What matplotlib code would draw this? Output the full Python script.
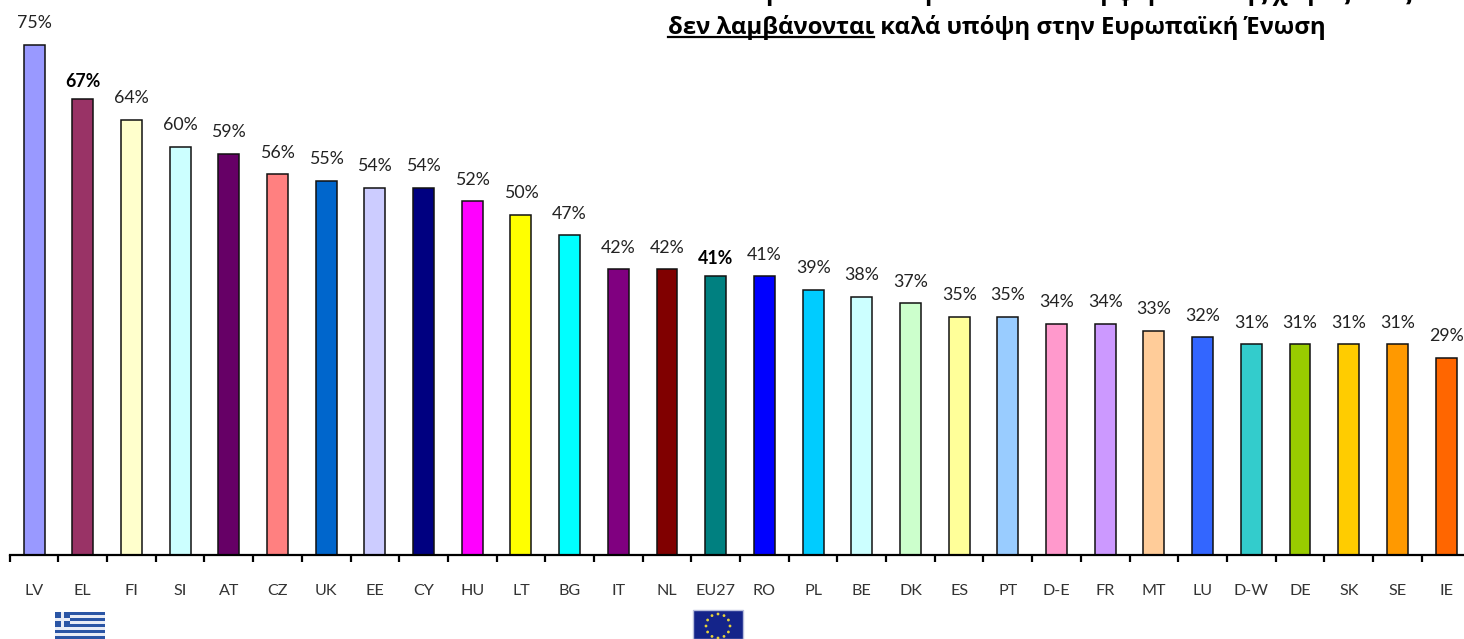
import matplotlib
matplotlib.use("Agg")
import matplotlib.pyplot as plt
import numpy as np
from matplotlib.patches import Rectangle, Circle

W, H = 1464, 639
countries = ["LV","EL","FI","SI","AT","CZ","UK","EE","CY","HU","LT","BG","IT","NL","EU27",
             "RO","PL","BE","DK","ES","PT","D-E","FR","MT","LU","D-W","DE","SK","SE","IE"]
values = [75,67,64,60,59,56,55,54,54,52,50,47,42,42,41,41,39,38,37,35,35,34,34,33,32,31,31,31,31,29]
colors = ["#9999FF","#993366","#FFFFCC","#CCFFFF","#660066","#FF8080","#0066CC","#CCCCFF","#000080",
          "#FF00FF","#FFFF00","#00FFFF","#800080","#800000","#008080","#0000FF","#00CCFF","#CCFFFF",
          "#CCFFCC","#FFFF99","#99CCFF","#FF99CC","#CC99FF","#FFCC99","#3366FF","#33CCCC","#99CC00",
          "#FFCC00","#FF9900","#FF6600"]
bold_labels = {"EL", "EU27"}
title_line1 = "Ποσοστό ατόμων που θεωρούν ότι τα συμφέροντα της χώρας τους"
title_under = "δεν λαμβάνονται"
title_rest = " καλά υπόψη στην Ευρωπαϊκή Ένωση"

plt.rcParams["font.family"] = ["Lato", "Open Sans", "DejaVu Sans"]
TITLE_FONT = ["Open Sans", "DejaVu Sans"]

fig = plt.figure(figsize=(W/100, H/100), dpi=100)
px_left, px_right, px_base = 9.7, 1464, 555
ax = fig.add_axes([px_left/W, (H-px_base)/H, (px_right-px_left)/W, px_base/H])
step = 48.69
x = np.arange(len(countries))
ax.bar(x, values, width=0.43, color=colors, edgecolor="#111111", linewidth=1.1)
for s in ["top", "left", "right"]:
    ax.spines[s].set_visible(False)
ax.spines["bottom"].set_linewidth(1.6)
ax.set_yticks([])
ax.set_xticks(np.arange(-0.5, 29.6, 1))
ax.tick_params(axis="x", length=5, width=1.6, labelbottom=False)
ax.set_xlim(-0.5, -0.5 + (px_right-px_left)/step)
ax.set_ylim(0, px_base/6.8)
for i, (c, v) in enumerate(zip(countries, values)):
    b = c in bold_labels
    ax.annotate(f"{v}%", (i, v), xytext=(0, 18 if b else 21.5), textcoords="offset pixels",
                ha="center", va="center", fontsize=12.8,
                fontweight="bold" if b else "normal", color="#000000" if b else "#222222")
    ax.annotate(c, (i, 0), xytext=(0, -36), textcoords="offset pixels", ha="center",
                va="center", fontsize=11.6, color="#333333", annotation_clip=False)

# Title (first line is clipped by the top edge in the reference)
r = fig.canvas.get_renderer()
fs = 14.0
line_left, line_right = 668, 1328
probe = fig.text(0, 0, title_under + title_rest, fontsize=fs, fontweight="bold", family=TITLE_FONT)
fs = fs * (line_right - line_left) / probe.get_window_extent(r).width
probe.remove()
fig.text(610/W, 1-(-6)/H, title_line1, ha="left", va="center", fontsize=fs, fontweight="bold",
         family=TITLE_FONT, clip_on=False)
t1 = fig.text(line_left/W, 1-27/H, title_under, ha="left", va="center", fontsize=fs,
              fontweight="bold", family=TITLE_FONT)
bb = t1.get_window_extent(r)
fig.text(bb.x1/W, 1-27/H, title_rest, ha="left", va="center", fontsize=fs, fontweight="bold",
         family=TITLE_FONT)
fig.add_artist(plt.Line2D([line_left/W, bb.x1/W], [1-37/H]*2, color="black", lw=1.6))

# Flags
fl = fig.add_axes([0, 0, 1, 1], facecolor="none")
fl.set_xlim(0, W); fl.set_ylim(H, 0); fl.axis("off")
gb, gw = "#2A55A5", "#E8ECF6"
gx, gy, gw_, gh = 55, 612, 50, 27
fl.add_patch(Rectangle((gx, gy), gw_, gh, color=gw, lw=0))
for k in range(0, 9, 2):
    fl.add_patch(Rectangle((gx, gy+k*gh/9), gw_, gh/9, color=gb, lw=0))
fl.add_patch(Rectangle((gx, gy), 5*gh/9, 5*gh/9, color=gb, lw=0))
fl.add_patch(Rectangle((gx, gy+2*gh/9), 5*gh/9, gh/9, color=gw, lw=0))
fl.add_patch(Rectangle((gx+2*gh/9, gy), gh/9, 5*gh/9, color=gw, lw=0))
fl.add_patch(Rectangle((693, 610), 50, 29, facecolor="#14248A", edgecolor="#B8BEDD", lw=1))
for a in np.deg2rad(np.arange(0, 360, 30)):
    fl.add_patch(Circle((718+12*np.cos(a), 626+12*np.sin(a)), 1.4, color="#E6D23A", lw=0))

fig.savefig("out.png", dpi=100)
